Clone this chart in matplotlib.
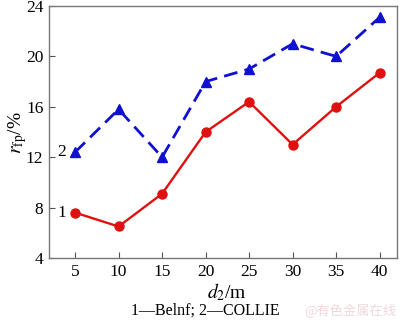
import matplotlib
matplotlib.use("Agg")
import matplotlib.pyplot as plt

d2 = [5, 10, 15, 20, 25, 30, 35, 40]
belnf = [7.6, 6.5, 9.1, 14.0, 16.4, 13.0, 16.0, 18.7]
collie = [12.4, 15.8, 12.0, 18.0, 19.0, 21.0, 20.0, 23.1]
yticks = [4, 8, 12, 16, 20, 24]

plt.rcParams['font.family'] = ['Liberation Serif', 'DejaVu Serif']
plt.rcParams['mathtext.fontset'] = 'stix'

fig = plt.figure(figsize=(4.0, 3.23), dpi=100)
ax = fig.add_axes([49/400, 1 - 258/323, 348/400, 252/323])

ax.plot(d2, belnf, color='#e01010', lw=1.7, marker='o', ms=6.5)
ax.plot(d2, collie, color='#1010d0', lw=2.0, ls=(0, (5, 2.6)), marker='^', ms=6.5)

ax.set_xlim(2, 42)
ax.set_ylim(4, 24)
ax.set_xticks(d2)
ax.set_yticks(yticks)
ax.tick_params(direction='in', labelsize=12.5, length=4, width=0.8, color='#555555', pad=4)
for s in ax.spines.values():
    s.set_color('#777777')
    s.set_linewidth(1.0)

ax.text(3.5, belnf[0], '1', fontsize=12.5, va='center', ha='center')
ax.text(3.5, collie[0], '2', fontsize=12.5, va='center', ha='center')

fig.text(227/400, 1 - 292/323, '$d_2$/m', fontsize=14, ha='center', va='center')
fig.text(18/400, 1 - 133/323, '$r_{\\mathrm{fp}}$/%', fontsize=14, ha='center', va='center', rotation=90)
fig.text(205/400, 1 - 311/323, '1—Belnf; 2—COLLIE', fontsize=11.5, ha='center', va='center')
fig.text(350/400, 1 - 311/323, '@有色金属在线', fontsize=9.5, ha='center', va='center',
         color='#f0d8dc', family=['Noto Sans CJK SC', 'DejaVu Sans'])

fig.savefig('out.png', dpi=100)
